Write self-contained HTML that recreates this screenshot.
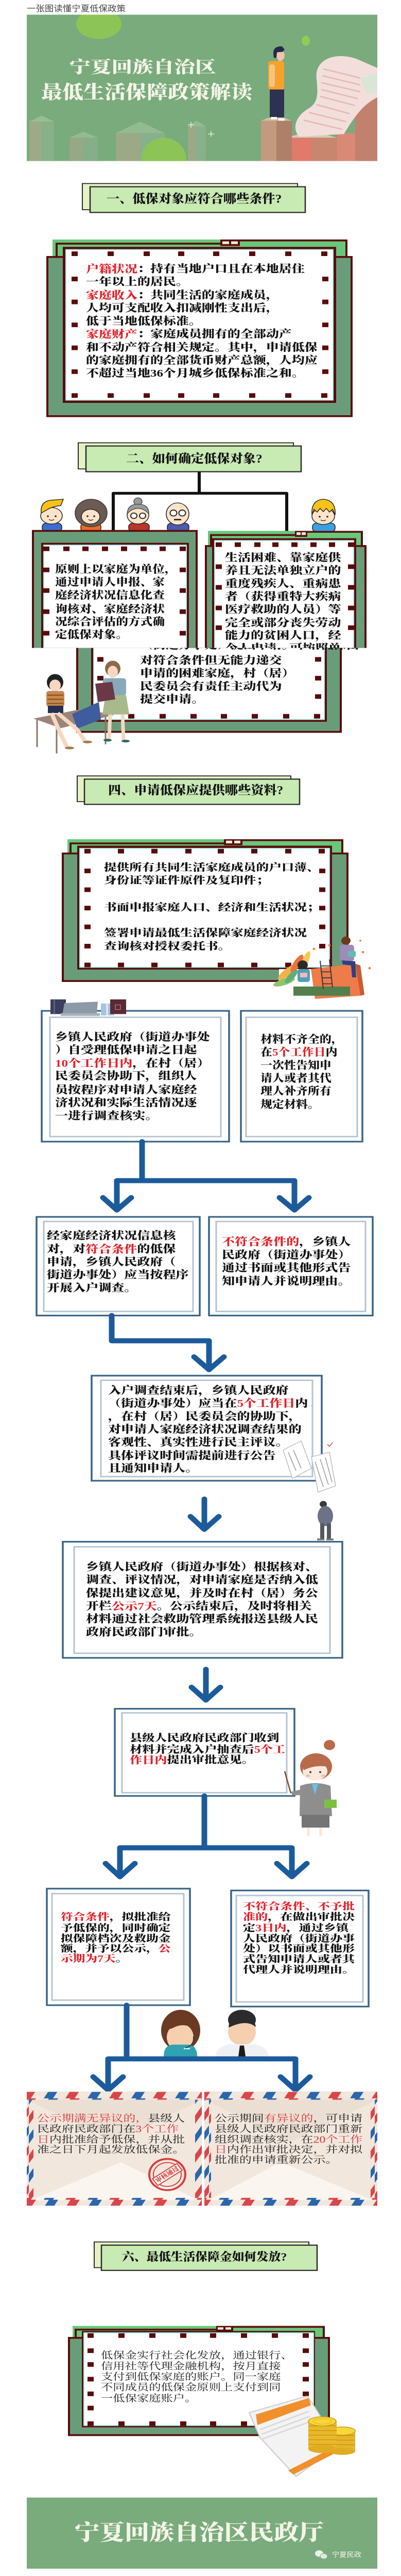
<!DOCTYPE html>
<html><head><meta charset="utf-8">
<meta name="viewport" content="width=779, initial-scale=1">
<style>
html,body{margin:0;padding:0;background:#fff;width:779px;height:100%;overflow:hidden}
svg{display:block;width:779px;height:clamp(4000px,100vh,5614px);overflow:hidden}
text{dominant-baseline:central}
.b{font-family:"Liberation Serif","Noto Serif CJK SC",serif;font-weight:900;fill:#111}
.n{font-family:"Liberation Serif","Noto Serif CJK SC",serif;font-weight:400;fill:#1c1c1c}
.w{font-family:"Liberation Serif","Noto Serif CJK SC",serif;font-weight:900;fill:#f5f4e8}
.s{font-family:"Liberation Sans","Noto Sans CJK SC",sans-serif;font-weight:400;fill:#444}
.r{fill:#e0232b}
.fr{fill:#699d7a;stroke:#5a0b0b;stroke-width:4}
.mr{fill:#5a0b0b}
.wp{fill:#fff;stroke:#a6eeee;stroke-width:2}
.bd{fill:#67c77a}
.ml{fill:none;stroke:#5a0b0b;stroke-width:4}
.ob{fill:#fff;stroke:#386488;stroke-width:3.5}
.ib{fill:none;stroke:#b3c3d1;stroke-width:3}
.hb{fill:#e4f1c4;stroke:#2b2b2b;stroke-width:2}
.hf{fill:#c8eab3;stroke:#2b2b2b;stroke-width:2.5}
.cn{fill:none;stroke:#1c5b9b;stroke-width:11;stroke-linecap:round;stroke-linejoin:round}
.sk{fill:#fde4c8;stroke:#222;stroke-width:1.5}
</style></head>
<body><svg viewBox="0 0 779 5614" preserveAspectRatio="none" xmlns="http://www.w3.org/2000/svg">
<defs>
<rect id="sq" x="-6" y="-5" width="12" height="10" fill="#5a0b0b"/>
<pattern id="airH" patternUnits="userSpaceOnUse" width="85" height="17" x="0" y="0">
  <polygon points="0,17 10,0 28,0 18,17" fill="#2a66ab"/>
  <polygon points="42,17 52,0 70,0 60,17" fill="#d9464a"/>
</pattern>
<pattern id="airV" patternUnits="userSpaceOnUse" width="14" height="85" x="0" y="0">
  <polygon points="0,22 14,0 14,18 0,40" fill="#d9464a"/>
  <polygon points="0,64 14,42 14,60 0,82" fill="#2a66ab"/>
</pattern>
<clipPath id="cBan"><rect x="52" y="32" width="681" height="319"/></clipPath>
<clipPath id="cAB"><rect x="0" y="1100" width="779" height="312"/></clipPath>
<clipPath id="cC"><rect x="0" y="1412" width="779" height="300"/></clipPath>
</defs>

<g transform="translate(52 0) scale(0.97 1)"><text class="s" font-size="18" y="19">一张图读懂宁夏低保政策</text></g>

<!-- Banner -->
<g clip-path="url(#cBan)">
<rect x="52" y="32" width="681" height="319" fill="#79ab7c"/>
<ellipse cx="192" cy="52" rx="44" ry="33" fill="#8cc457"/>
<ellipse cx="594" cy="89" rx="8" ry="11" fill="#8dcc55"/>
<polygon points="57,265 81,252 105,265 81,278" fill="#97bf95"/>
<rect x="57" y="265" width="24" height="86" fill="#9ea987"/>
<rect x="81" y="265" width="24" height="86" fill="#88b08a"/>
<polygon points="135,300 162,287 190,300 162,313" fill="#93bb92"/>
<rect x="135" y="300" width="27" height="51" fill="#96a886"/>
<rect x="162" y="300" width="28" height="51" fill="#86ae88"/>
<polygon points="225,290 272,265 320,290 272,315" fill="#93bb92"/>
<rect x="225" y="290" width="47" height="61" fill="#9ca986"/>
<rect x="272" y="290" width="48" height="61" fill="#88b08a"/>
<polygon points="365,275 382,263 400,275 382,287" fill="#93bb92"/>
<rect x="365" y="275" width="17" height="76" fill="#9ca986"/>
<rect x="382" y="275" width="18" height="76" fill="#88b08a"/>
<ellipse cx="318" cy="348" rx="44" ry="48" fill="#8cc457"/>
<path d="M371 266 v12 M365 272 h12 M410 286 v12 M404 292 h12" stroke="#e8f3e0" stroke-width="1.5"/>
<rect x="690" y="213" width="43" height="138" fill="#c2816c"/>
<polygon points="555,300 605,285 655,300 605,315" fill="#d8ccb6"/>
<rect x="555" y="300" width="50" height="51" fill="#e07a6a"/>
<rect x="605" y="300" width="50" height="51" fill="#c8866f"/>
<rect x="655" y="290" width="35" height="61" fill="#d98a77"/>
<path d="M615 172 C610 130 650 112 692 128 L733 148 L733 212 C705 228 690 252 668 292 L582 298 C566 282 574 252 600 236 C620 222 617 200 615 172 Z" fill="#f2dfdb"/>
<path d="M628 150 L700 170 M626 165 L700 185 M624 180 L700 200 M624 195 L695 215 M622 210 L690 230 M615 228 L680 248 M600 245 L672 265 M590 262 L665 282" stroke="#e6b9b6" stroke-width="3"/>
<polygon points="700,170 733,160 733,200 712,205" fill="#d9e6d6"/>
<polygon points="507,263 537,250 567,263 537,276" fill="#c9c39f"/>
<rect x="507" y="263" width="30" height="88" fill="#c39a7e"/>
<rect x="537" y="263" width="30" height="88" fill="#b07f6a"/>
<ellipse cx="545" cy="121" rx="8" ry="11" fill="#f0c4ac"/>
<path d="M531 118 Q530 100 548 101 L553 108 L549 113 L538 114 L537 126 L532 126 Z" fill="#27294a"/>
<rect x="541" y="129" width="6" height="6" fill="#f0c4ac"/>
<rect x="521" y="133" width="31" height="63" rx="6" fill="#f6a12c"/>
<rect x="523" y="140" width="11" height="50" rx="5" fill="#f9c37a"/>
<rect x="524" y="195" width="28" height="61" fill="#2e3252"/>
<rect x="526" y="255" width="12" height="5" fill="#fff"/>
<rect x="541" y="258" width="12" height="5" fill="#fff"/>
</g>
<g transform="translate(135 0) scale(1.13 1)"><text class="w" font-size="36" y="146">宁夏回族自治区</text></g>
<g transform="translate(80 0) scale(1.025 1)"><text class="w" font-size="40" y="202">最低生活保障政策解读</text></g>

<!-- Header 1 -->
<rect class="hb" x="160" y="400" width="418" height="57"/>
<rect class="hf" x="175" y="407" width="418" height="56"/>
<g transform="translate(207 0) scale(0.97 1)"><text class="b" font-size="26" y="434">一、低保对象应符合哪些条件?</text></g>

<!-- Frame 1 -->
<rect class="bd" x="102" y="522" width="573" height="38"/>
<path class="ml" d="M110 560 V531 H428"/>
<path class="ml" d="M466 524 H673 V560"/>
<rect class="mr" x="428" y="522" width="38" height="14"/>
<rect x="432" y="526" width="13" height="6" fill="#e9ecd9"/><rect x="449" y="526" width="13" height="6" fill="#e9ecd9"/>
<rect class="fr" x="92" y="560" width="591" height="347"/>
<rect class="mr" x="122" y="538" width="531" height="340"/>
<rect class="wp" x="128" y="544" width="519" height="328"/>
<use href="#sq" x="145" y="553"/><use href="#sq" x="215" y="553"/><use href="#sq" x="285" y="553"/><use href="#sq" x="352" y="553"/><use href="#sq" x="420" y="553"/><use href="#sq" x="490" y="553"/><use href="#sq" x="560" y="553"/><use href="#sq" x="630" y="553"/>
<use href="#sq" x="145" y="862"/><use href="#sq" x="215" y="862"/><use href="#sq" x="285" y="862"/><use href="#sq" x="352" y="862"/><use href="#sq" x="420" y="862"/><use href="#sq" x="490" y="862"/><use href="#sq" x="560" y="862"/><use href="#sq" x="630" y="862"/>
<use href="#sq" x="145" y="608"/><use href="#sq" x="145" y="658"/><use href="#sq" x="145" y="708"/><use href="#sq" x="145" y="758"/><use href="#sq" x="145" y="810"/>
<use href="#sq" x="632" y="608"/><use href="#sq" x="632" y="658"/><use href="#sq" x="632" y="708"/><use href="#sq" x="632" y="758"/><use href="#sq" x="632" y="810"/>
<g transform="translate(167 0) scale(1.087 1)">
<text class="b" font-size="23" y="586"><tspan class="r">户籍状况</tspan>：持有当地户口且在本地居住</text>
<text class="b" font-size="23" y="614">一年以上的居民。</text>
<text class="b" font-size="23" y="643"><tspan class="r">家庭收入</tspan>：共同生活的家庭成员，</text>
<text class="b" font-size="23" y="671">人均可支配收入扣减刚性支出后，</text>
<text class="b" font-size="23" y="700">低于当地低保标准。</text>
<text class="b" font-size="23" y="728"><tspan class="r">家庭财产</tspan>：家庭成员拥有的全部动产</text>
<text class="b" font-size="23" y="757">和不动产符合相关规定。其中，申请低保</text>
<text class="b" font-size="23" y="785">的家庭拥有的全部货币财产总额，人均应</text>
<text class="b" font-size="23" y="813">不超过当地36个月城乡低保标准之和。</text>
</g>

<!-- Header 2 -->
<rect class="hb" x="152" y="965" width="418" height="57"/>
<rect class="hf" x="167" y="972" width="418" height="56"/>
<g transform="translate(245 0) scale(0.97 1)"><text class="b" font-size="26" y="1000">二、如何确定低保对象?</text></g>
<path d="M387 1028 V1075 M220 1157 V1075 H557 V1157" fill="none" stroke="#111" stroke-width="6" stroke-linejoin="round"/>

<!-- cartoon heads -->
<rect x="82" y="1140" width="38" height="19" rx="8" fill="#3b6fd0" stroke="#222" stroke-width="1.5"/>
<ellipse class="sk" cx="100" cy="1124" rx="21" ry="18"/>
<path d="M80 1118 Q78 1092 100 1090 L123 1088 L118 1102 Q100 1104 90 1112 Z" fill="#f7c21a" stroke="#222" stroke-width="1.5"/>
<circle cx="93" cy="1125" r="1.8" fill="#222"/><circle cx="108" cy="1125" r="1.8" fill="#222"/>
<path d="M95 1132 Q100 1136 105 1132" stroke="#222" fill="none" stroke-width="1.3"/>
<rect x="157" y="1140" width="39" height="19" rx="8" fill="#f26b21" stroke="#222" stroke-width="1.5"/>
<ellipse cx="177" cy="1118" rx="31" ry="30" fill="#6b5b54" stroke="#333" stroke-width="1.5"/>
<ellipse class="sk" cx="176" cy="1126" rx="18" ry="16"/>
<circle cx="170" cy="1125" r="1.8" fill="#222"/><circle cx="183" cy="1125" r="1.8" fill="#222"/>
<path d="M172 1132 Q176 1136 181 1132" stroke="#222" fill="none" stroke-width="1.3"/>
<rect x="250" y="1140" width="40" height="19" rx="8" fill="#b8362a" stroke="#222" stroke-width="1.5"/>
<circle cx="268" cy="1093" r="8" fill="#9a9a9a" stroke="#333" stroke-width="1.2"/>
<ellipse class="sk" cx="268" cy="1123" rx="21" ry="19"/>
<path d="M247 1120 Q248 1098 268 1099 Q289 1098 289 1120 Q280 1108 268 1108 Q256 1108 247 1120 Z" fill="#9a9a9a" stroke="#333" stroke-width="1.2"/>
<circle cx="260" cy="1124" r="6" fill="#fff" stroke="#222" stroke-width="2"/><circle cx="277" cy="1124" r="6" fill="#fff" stroke="#222" stroke-width="2"/>
<rect x="325" y="1140" width="42" height="19" rx="8" fill="#4b5ab0" stroke="#222" stroke-width="1.5"/>
<ellipse class="sk" cx="345" cy="1120" rx="22" ry="24"/>
<circle cx="337" cy="1118" r="6.5" fill="#fff" stroke="#222" stroke-width="2"/><circle cx="354" cy="1118" r="6.5" fill="#fff" stroke="#222" stroke-width="2"/>
<rect x="338" y="1131" width="14" height="3" fill="#222"/>
<rect x="607" y="1140" width="44" height="19" rx="8" fill="#3aa0e0" stroke="#222" stroke-width="1.5"/>
<ellipse class="sk" cx="628" cy="1125" rx="22" ry="18"/>
<path d="M606 1122 Q604 1090 628 1088 Q653 1090 651 1122 L646 1110 L640 1116 L634 1108 L628 1115 L622 1108 L616 1116 L610 1110 Z" fill="#f7c21a" stroke="#222" stroke-width="1.5"/>
<circle cx="621" cy="1126" r="1.8" fill="#222"/><circle cx="636" cy="1126" r="1.8" fill="#222"/>
<path d="M623 1133 Q628 1137 633 1133" stroke="#222" fill="none" stroke-width="1.3"/>

<!-- Boxes A & B -->
<g clip-path="url(#cAB)">
<rect class="fr" x="64" y="1157" width="318" height="300"/>
<rect class="mr" x="80" y="1183" width="287" height="260"/>
<rect class="wp" x="85" y="1188" width="277" height="260"/>
<use href="#sq" x="90" y="1196"/><use href="#sq" x="129" y="1196"/><use href="#sq" x="166" y="1196"/><use href="#sq" x="204" y="1196"/><use href="#sq" x="241" y="1196"/><use href="#sq" x="279" y="1196"/><use href="#sq" x="316" y="1196"/><use href="#sq" x="355" y="1196"/>
<use href="#sq" x="90" y="1242"/><use href="#sq" x="90" y="1287"/><use href="#sq" x="90" y="1333"/><use href="#sq" x="90" y="1380"/>
<use href="#sq" x="355" y="1242"/><use href="#sq" x="355" y="1287"/><use href="#sq" x="355" y="1333"/><use href="#sq" x="355" y="1380"/>
<g transform="translate(107 0) scale(1.03 1)">
<text class="b" font-size="23" y="1240">原则上以家庭为单位，</text>
<text class="b" font-size="23" y="1268">通过申请人申报、家</text>
<text class="b" font-size="23" y="1297">庭经济状况信息化查</text>
<text class="b" font-size="23" y="1327">询核对、家庭经济状</text>
<text class="b" font-size="23" y="1355">况综合评估的方式确</text>
<text class="b" font-size="23" y="1383">定低保对象。</text>
</g>
<rect class="bd" x="404" y="1157" width="301" height="33"/>
<path class="ml" d="M410 1190 V1166 H573"/>
<path class="ml" d="M597 1159 H703 V1190"/>
<rect class="mr" x="573" y="1157" width="24" height="13"/>
<rect x="576" y="1160" width="8" height="6" fill="#e9ecd9"/><rect x="586" y="1160" width="8" height="6" fill="#e9ecd9"/>
<rect class="fr" x="400" y="1190" width="310" height="260"/>
<rect class="mr" x="412" y="1173" width="280" height="280"/>
<rect class="wp" x="417" y="1178" width="270" height="280"/>
<use href="#sq" x="425" y="1187"/><use href="#sq" x="462" y="1187"/><use href="#sq" x="500" y="1187"/><use href="#sq" x="535" y="1187"/><use href="#sq" x="572" y="1187"/><use href="#sq" x="609" y="1187"/><use href="#sq" x="645" y="1187"/><use href="#sq" x="682" y="1187"/>
<use href="#sq" x="425" y="1235"/><use href="#sq" x="425" y="1280"/><use href="#sq" x="425" y="1325"/><use href="#sq" x="425" y="1368"/>
<use href="#sq" x="682" y="1235"/><use href="#sq" x="682" y="1280"/><use href="#sq" x="682" y="1325"/><use href="#sq" x="682" y="1368"/>
<g transform="translate(437 0) scale(1.09 1)">
<text class="b" font-size="23" y="1215">生活困难、靠家庭供</text>
<text class="b" font-size="23" y="1243">养且无法单独立户的</text>
<text class="b" font-size="23" y="1272">重度残疾人、重病患</text>
<text class="b" font-size="23" y="1300">者（获得重特大疾病</text>
<text class="b" font-size="23" y="1328">医疗救助的人员）等</text>
<text class="b" font-size="23" y="1357">完全或部分丧失劳动</text>
<text class="b" font-size="23" y="1385">能力的贫困人口，经</text>
<text class="b" font-size="23" y="1413">个人申请，可按照单</text>
</g>
</g>

<!-- Box C -->
<g clip-path="url(#cC)">
<rect class="fr" x="150" y="1380" width="512" height="215"/>
<rect class="mr" x="177" y="1380" width="458" height="193"/>
<rect class="wp" x="182" y="1380" width="448" height="188"/>
<use href="#sq" x="195" y="1437"/><use href="#sq" x="195" y="1478"/><use href="#sq" x="195" y="1518"/>
<use href="#sq" x="618" y="1437"/><use href="#sq" x="618" y="1478"/><use href="#sq" x="618" y="1518"/>
<use href="#sq" x="255" y="1561"/><use href="#sq" x="316" y="1561"/><use href="#sq" x="376" y="1561"/><use href="#sq" x="435" y="1561"/><use href="#sq" x="495" y="1561"/><use href="#sq" x="556" y="1561"/><use href="#sq" x="616" y="1561"/>
<g transform="translate(272 0) scale(1.09 1)">
<text class="b" font-size="23" y="1406">（街道办事处）提出申请。申请低保由</text>
<text class="b" font-size="23" y="1439">对符合条件但无能力递交</text>
<text class="b" font-size="23" y="1467">申请的困难家庭，村（居）</text>
<text class="b" font-size="23" y="1496">民委员会有责任主动代为</text>
<text class="b" font-size="23" y="1524">提交申请。</text>
</g>
</g>
<!-- women illustration -->
<path d="M72 1568 V1628 M110 1586 V1642 M205 1560 V1622" stroke="#8a7469" stroke-width="3"/>
<polygon points="65,1566 160,1545 222,1558 118,1587" fill="#9d8479"/>
<polygon points="140,1556 192,1530 196,1568 150,1588" fill="#3f5c9e"/>
<ellipse cx="107" cy="1487" rx="16" ry="18" fill="#222"/>
<ellipse cx="107" cy="1494" rx="11" ry="13" fill="#f7d7c0"/>
<rect x="90" y="1506" width="35" height="34" rx="5" fill="#c9874a"/>
<path d="M92 1515 H123 M92 1524 H123 M92 1533 H123" stroke="#7a4a22" stroke-width="2"/>
<rect x="93" y="1538" width="30" height="16" fill="#24304f"/>
<path d="M100 1554 L118 1600 L130 1628 M112 1554 L150 1590 L165 1615" stroke="#f7d7c0" stroke-width="8" fill="none"/>
<ellipse cx="135" cy="1630" rx="9" ry="3" fill="#a67b4f"/><ellipse cx="170" cy="1617" rx="9" ry="3" fill="#a67b4f"/>
<ellipse cx="219" cy="1457" rx="15" ry="17" fill="#8a6a4a"/>
<ellipse cx="219" cy="1464" rx="10" ry="13" fill="#f7d7c0"/>
<rect x="200" y="1478" width="45" height="38" rx="6" fill="#87a9b8"/>
<polygon points="205,1515 245,1515 251,1557 199,1557" fill="#a8b98c"/>
<path d="M214 1557 L212 1610 M238 1557 L240 1612" stroke="#f7d7c0" stroke-width="7"/>
<ellipse cx="209" cy="1613" rx="8" ry="3" fill="#2e6a66"/><ellipse cx="244" cy="1615" rx="8" ry="3" fill="#2e6a66"/>
<polygon points="185,1490 218,1486 224,1524 190,1530" fill="#6b3848"/>

<!-- Header 4 -->
<rect class="hb" x="150" y="1691" width="415" height="56"/>
<rect class="hf" x="164" y="1698" width="418" height="55"/>
<g transform="translate(210 0) scale(0.97 1)"><text class="b" font-size="26" y="1723">四、申请低保应提供哪些资料?</text></g>

<!-- Box D -->
<rect class="bd" x="131" y="1829" width="536" height="31"/>
<path class="ml" d="M137 1860 V1838 H435"/>
<path class="ml" d="M471 1831 H665 V1860"/>
<rect class="mr" x="435" y="1829" width="36" height="13"/>
<rect x="439" y="1832" width="12" height="6" fill="#e9ecd9"/><rect x="455" y="1832" width="12" height="6" fill="#e9ecd9"/>
<rect class="fr" x="122" y="1860" width="553" height="278"/>
<rect class="mr" x="150" y="1843" width="495" height="270"/>
<rect class="wp" x="155" y="1849" width="485" height="259"/>
<use href="#sq" x="170" y="1855"/><use href="#sq" x="235" y="1855"/><use href="#sq" x="300" y="1855"/><use href="#sq" x="366" y="1855"/><use href="#sq" x="429" y="1855"/><use href="#sq" x="494" y="1855"/><use href="#sq" x="560" y="1855"/><use href="#sq" x="625" y="1855"/>
<use href="#sq" x="170" y="1898"/><use href="#sq" x="170" y="1939"/><use href="#sq" x="170" y="1979"/><use href="#sq" x="170" y="2020"/><use href="#sq" x="170" y="2062"/>
<use href="#sq" x="626" y="1898"/><use href="#sq" x="626" y="1939"/><use href="#sq" x="626" y="1979"/><use href="#sq" x="626" y="2020"/><use href="#sq" x="626" y="2062"/>
<use href="#sq" x="170" y="2103"/><use href="#sq" x="235" y="2103"/><use href="#sq" x="300" y="2103"/><use href="#sq" x="366" y="2103"/><use href="#sq" x="429" y="2103"/><use href="#sq" x="494" y="2103"/><use href="#sq" x="560" y="2103"/>
<g transform="translate(202 0) scale(1.12 1)">
<text class="b" font-size="22" y="1890">提供所有共同生活家庭成员的户口薄、</text>
<text class="b" font-size="22" y="1918">身份证等证件原件及复印件；</text>
<text class="b" font-size="22" y="1977">书面申报家庭人口、经济和生活状况；</text>
<text class="b" font-size="22" y="2033">签署申请最低生活保障家庭经济状况</text>
<text class="b" font-size="22" y="2062">查询核对授权委托书。</text>
</g>
<!-- reading illustration -->
<polygon points="542,2112 733,2112 733,2180 542,2180" fill="#fff"/>
<ellipse cx="560" cy="2118" rx="25" ry="8" fill="#f2b24a" transform="rotate(-40 560 2118)"/>
<ellipse cx="577" cy="2100" rx="22" ry="7" fill="#e9723d" transform="rotate(-60 577 2100)"/>
<ellipse cx="552" cy="2140" rx="22" ry="7" fill="#8cc66c" transform="rotate(-20 552 2140)"/>
<ellipse cx="594" cy="2092" rx="20" ry="6" fill="#f6c85a" transform="rotate(-70 594 2092)"/>
<ellipse cx="566" cy="2128" rx="18" ry="6" fill="#5fae7a" transform="rotate(-50 566 2128)"/>
<polygon points="604,2112 690,2100 700,2170 612,2177" fill="#ee7b49"/>
<polygon points="690,2100 700,2104 708,2168 700,2170" fill="#c95a32"/>
<rect x="570" y="2150" width="110" height="20" fill="#527f4c"/>
<path d="M622 2094 L628 2155 M640 2091 L646 2152 M623 2105 H641 M624 2118 H643 M626 2131 H644 M627 2144 H645" stroke="#3a3a3a" stroke-width="2"/>
<circle cx="672" cy="2050" r="9" fill="#6b3a1e"/>
<rect x="660" y="2059" width="28" height="36" rx="6" fill="#9d8bb8"/>
<path d="M664 2093 L690 2095 L692 2130 L684 2130 L682 2104 L666 2102 Z" fill="#2f3f86"/>
<rect x="676" y="2073" width="15" height="12" fill="#5cc0b0"/>
<circle cx="588" cy="2103" r="10" fill="#2a2a2a"/>
<rect x="578" y="2112" width="24" height="28" rx="5" fill="#4fa0b5"/>
<rect x="583" y="2120" width="14" height="10" fill="#f4b6c0"/>
<circle cx="610" cy="2068" r="2.5" fill="#f0843c"/><circle cx="640" cy="2060" r="2.5" fill="#f0843c"/><circle cx="705" cy="2075" r="2.5" fill="#f0843c"/><circle cx="718" cy="2110" r="2.5" fill="#f0843c"/><circle cx="700" cy="2050" r="2" fill="#f0843c"/>

<!-- Box E -->
<rect class="ob" x="81" y="2203" width="364" height="285"/>
<rect class="ib" x="97" y="2217" width="332" height="260"/>
<rect x="98" y="2178" width="30" height="32" fill="#3b3f5e"/>
<rect x="104" y="2178" width="3" height="32" fill="#5a5f82"/>
<polygon points="125,2186 190,2183 188,2210 121,2213" fill="#8e99a8"/>
<rect x="118" y="2208" width="76" height="6" fill="#a7b1be"/>
<rect x="196" y="2187" width="26" height="26" fill="#a4c3e0"/>
<rect x="206" y="2187" width="4" height="26" fill="#d8e6f2"/>
<rect x="214" y="2178" width="31" height="32" fill="#5a2a35"/>
<rect x="224" y="2190" width="10" height="10" fill="none" stroke="#c9a" stroke-width="1"/>
<g transform="translate(107 0) scale(1.09 1)">
<text class="b" font-size="23" y="2260">乡镇人民政府（街道办事处</text>
<text class="b" font-size="23" y="2288">）自受理低保申请之日起</text>
<text class="b" font-size="23" y="2317"><tspan class="r">10个工作日内</tspan>，在村（居）</text>
<text class="b" font-size="23" y="2345">民委员会协助下，组织人</text>
<text class="b" font-size="23" y="2375">员按程序对申请人家庭经</text>
<text class="b" font-size="23" y="2403">济状况和实际生活情况逐</text>
<text class="b" font-size="23" y="2432">一进行调查核实。</text>
</g>
<!-- Box F -->
<rect class="ob" x="468" y="2203" width="236" height="285"/>
<rect class="ib" x="478" y="2217" width="216" height="260"/>
<g transform="translate(506 0)">
<text class="b" font-size="23" y="2265">材料不齐全的，</text>
<text class="b" font-size="23" y="2293">在<tspan class="r">5个工作日</tspan>内</text>
<text class="b" font-size="23" y="2322">一次性告知申</text>
<text class="b" font-size="23" y="2350">请人或者其代</text>
<text class="b" font-size="23" y="2378">理人补齐所有</text>
<text class="b" font-size="23" y="2407">规定材料。</text>
</g>

<path class="cn" d="M276 2488 V2573 M227 2637 V2573 H572 V2637"/>
<path class="cn" d="M200 2610 L227 2637 L255 2610 M543 2610 L572 2637 L600 2610"/>

<!-- Box G -->
<rect class="ob" x="71" y="2652" width="317" height="215"/>
<rect class="ib" x="85" y="2662" width="290" height="196"/>
<g transform="translate(91 0) scale(1.09 1)">
<text class="b" font-size="23" y="2693">经家庭经济状况信息核</text>
<text class="b" font-size="23" y="2722">对，对<tspan class="r">符合条件</tspan>的低保</text>
<text class="b" font-size="23" y="2750">申请，乡镇人民政府（</text>
<text class="b" font-size="23" y="2778">街道办事处）应当按程序</text>
<text class="b" font-size="23" y="2807">开展入户调查。</text>
</g>
<!-- Box H -->
<rect class="ob" x="406" y="2652" width="318" height="215"/>
<rect class="ib" x="420" y="2662" width="290" height="196"/>
<g transform="translate(431 0) scale(1.09 1)">
<text class="b" font-size="23" y="2706"><tspan class="r">不符合条件的</tspan>，乡镇人</text>
<text class="b" font-size="23" y="2735">民政府（街道办事处）</text>
<text class="b" font-size="23" y="2763">通过书面或其他形式告</text>
<text class="b" font-size="23" y="2792">知申请人并说明理由。</text>
</g>

<path class="cn" d="M217 2867 V2922 H406 V2985"/>
<path class="cn" d="M377 2957 L406 2985 L435 2957"/>

<!-- Box I -->
<rect class="ob" x="178" y="2998" width="447" height="229"/>
<rect class="ib" x="196" y="3008" width="411" height="210"/>
<g transform="translate(210 0) scale(1.09 1)">
<text class="b" font-size="23" y="3030">入户调查结束后，乡镇人民政府</text>
<text class="b" font-size="23" y="3058">（街道办事处）应当在<tspan class="r">5个工作日</tspan>内</text>
<text class="b" font-size="23" y="3087">，在村（居）民委员会的协助下，</text>
<text class="b" font-size="23" y="3115">对申请人家庭经济状况调查结果的</text>
<text class="b" font-size="23" y="3143">客观性、真实性进行民主评议。</text>
<text class="b" font-size="23" y="3172">具体评议时间需提前进行公告</text>
<text class="b" font-size="23" y="3200">且通知申请人。</text>
</g>
<g fill="#fff" stroke="#bbb" stroke-width="1.5">
<polygon points="550,3160 585,3140 605,3200 568,3222"/>
<polygon points="605,3175 640,3165 652,3238 618,3252"/>
</g>
<path d="M560 3165 L575 3205 M570 3160 L585 3200 M612 3185 L628 3240 M622 3180 L638 3236 M632 3176 L645 3230" stroke="#999" stroke-width="1.5"/>
<path d="M636 3148 l4 4 l6 -8" stroke="#d33" stroke-width="1.5" fill="none"/>

<circle cx="628" cy="3278" r="7" fill="#3a3a3a"/>
<ellipse cx="632" cy="3304" rx="15" ry="22" fill="#6c7387"/>
<rect x="622" y="3320" width="8" height="35" fill="#55595f"/>
<rect x="635" y="3320" width="8" height="35" fill="#55595f"/>
<rect x="616" y="3353" width="14" height="4" fill="#777"/><rect x="634" y="3353" width="14" height="4" fill="#777"/>

<path class="cn" d="M397 3267 V3333"/>
<path class="cn" d="M370 3305 L397 3333 L425 3305"/>

<!-- Box J -->
<rect class="ob" x="122" y="3360" width="543" height="253"/>
<rect class="ib" x="144" y="3371" width="497" height="232"/>
<g transform="translate(167 0) scale(1.09 1)">
<text class="b" font-size="23" y="3415">乡镇人民政府（街道办事处）根据核对、</text>
<text class="b" font-size="23" y="3443">调查、评议情况，对申请家庭是否纳入低</text>
<text class="b" font-size="23" y="3472">保提出建议意见，并及时在村（居）务公</text>
<text class="b" font-size="23" y="3500">开栏<tspan class="r">公示7天</tspan>。公示结束后，及时将相关</text>
<text class="b" font-size="23" y="3528">材料通过社会救助管理系统报送县级人民</text>
<text class="b" font-size="23" y="3557">政府民政部门审批。</text>
</g>

<path class="cn" d="M400 3638 V3705"/>
<path class="cn" d="M372 3677 L400 3705 L428 3677"/>

<!-- Box K -->
<rect class="ob" x="223" y="3724" width="349" height="190"/>
<rect class="ib" x="237" y="3733" width="320" height="174"/>
<g transform="translate(252 0) scale(1.1 1)">
<text class="b" font-size="22" y="3787">县级人民政府民政部门收到</text>
<text class="b" font-size="22" y="3812">材料并完成入户抽查后<tspan class="r">5个工</tspan></text>
<text class="b" font-size="22" y="3835"><tspan class="r">作日内</tspan>提出审批意见。</text>
</g>
<!-- teacher -->
<line x1="553" y1="3860" x2="565" y2="3908" stroke="#7a4a2a" stroke-width="2.5"/>
<circle cx="640" cy="3803" r="11" fill="#b86b4b"/>
<ellipse cx="614" cy="3850" rx="31" ry="29" fill="#b86b4b"/>
<ellipse cx="612" cy="3860" rx="24" ry="20" fill="#fde9dc"/>
<path d="M588 3848 Q600 3832 636 3840 L636 3850 Q610 3846 590 3858 Z" fill="#b86b4b"/>
<circle cx="603" cy="3862" r="2" fill="#333"/><circle cx="622" cy="3862" r="2" fill="#333"/>
<ellipse cx="598" cy="3870" rx="4" ry="3" fill="#f6b9b9"/><ellipse cx="628" cy="3870" rx="4" ry="3" fill="#f6b9b9"/>
<path d="M583 3892 Q612 3880 642 3892 L645 3958 L582 3958 Z" fill="#8e8e8e"/>
<path d="M565 3905 L584 3900 L585 3912 L568 3913 Z" fill="#8e8e8e"/>
<path d="M606 3888 L618 3888 L612 3912 Z" fill="#6cc0e8"/>
<rect x="630" y="3922" width="24" height="18" fill="#7bc043"/>
<rect x="586" y="3955" width="54" height="28" fill="#757575"/>
<rect x="596" y="3983" width="6" height="18" fill="#fde9dc"/><rect x="620" y="3983" width="6" height="18" fill="#fde9dc"/>

<path class="cn" d="M397 3914 V4027 M233 4090 V4027 H567 V4090"/>
<path class="cn" d="M205 4061 L233 4090 L262 4061 M538 4061 L567 4090 L596 4061"/>

<!-- Box L -->
<rect class="ob" x="91" y="4116" width="278" height="254"/>
<rect class="ib" x="101" y="4127" width="256" height="232"/>
<g transform="translate(118 0) scale(1.13 1)">
<text class="b" font-size="21" y="4178"><tspan class="r">符合条件</tspan>，拟批准给</text>
<text class="b" font-size="21" y="4202">予低保的，同时确定</text>
<text class="b" font-size="21" y="4225">拟保障档次及救助金</text>
<text class="b" font-size="21" y="4247">额，并予以公示，<tspan class="r">公</tspan></text>
<text class="b" font-size="21" y="4269"><tspan class="r">示期为7天</tspan>。</text>
</g>
<!-- Box M -->
<rect class="ob" x="449" y="4120" width="267" height="253"/>
<rect class="ib" x="459" y="4131" width="246" height="232"/>
<g transform="translate(472 0) scale(1.15 1)">
<text class="b" font-size="21" y="4155"><tspan class="r">不符合条件、不予批</tspan></text>
<text class="b" font-size="21" y="4178"><tspan class="r">准的</tspan>，在做出审批决</text>
<text class="b" font-size="21" y="4202">定<tspan class="r">3日内</tspan>，通过乡镇</text>
<text class="b" font-size="21" y="4225">人民政府（街道办事</text>
<text class="b" font-size="21" y="4247">处）以书面或其他形</text>
<text class="b" font-size="21" y="4270">式告知申请人或者其</text>
<text class="b" font-size="21" y="4293">代理人并说明理由。</text>
</g>

<!-- busts -->
<ellipse cx="351" cy="4425" rx="38" ry="45" fill="#6a3b22"/>
<ellipse cx="350" cy="4440" rx="26" ry="30" fill="#f5cfae"/>
<path d="M322 4425 Q330 4395 352 4392 Q375 4395 380 4425 Q360 4405 335 4420 Z" fill="#6a3b22"/>
<path d="M318 4482 Q318 4458 335 4456 L366 4456 Q383 4458 383 4482 Z" fill="#2fa3b3"/>
<rect x="357" y="4463" width="12" height="3" fill="#dfeff2"/>
<path d="M376 4438 Q378 4458 360 4463" stroke="#333" stroke-width="2" fill="none"/>
<ellipse cx="470" cy="4402" rx="27" ry="22" fill="#2b2b2b"/>
<ellipse cx="470" cy="4428" rx="27" ry="30" fill="#f5cfae"/>
<path d="M444 4418 Q446 4392 470 4390 Q494 4392 497 4418 Q480 4400 446 4418 Z" fill="#2b2b2b"/>
<path d="M418 4482 Q420 4460 445 4455 L495 4455 Q520 4460 522 4482 Z" fill="#eef1f4"/>
<polygon points="466,4458 474,4458 477,4482 463,4482" fill="#1a1a1a"/>

<path class="cn" d="M246 4370 V4487 M210 4555 V4487 H574 V4555"/>
<path class="cn" d="M181 4526 L210 4555 L239 4526 M545 4526 L574 4555 L602 4526"/>

<!-- Envelopes -->
<rect x="52" y="4558" width="340" height="249" fill="#f1e7dd"/>
<polygon points="52,4576 392,4576 225,4668" fill="#ebdfd3"/>
<polygon points="60,4795 235,4712 385,4795" fill="#faf5ef"/>
<rect x="52" y="4559" width="340" height="17" fill="url(#airH)"/>
<rect x="52" y="4790" width="340" height="17" fill="url(#airH)"/>
<rect x="52" y="4576" width="13" height="214" fill="url(#airV)"/>
<rect x="379" y="4576" width="13" height="214" fill="url(#airV)"/>
<rect x="397" y="4558" width="336" height="249" fill="#f1e7dd"/>
<polygon points="397,4576 733,4576 565,4668" fill="#ebdfd3"/>
<polygon points="405,4795 545,4712 725,4795" fill="#faf5ef"/>
<rect x="397" y="4559" width="336" height="17" fill="url(#airH)"/>
<rect x="397" y="4790" width="336" height="17" fill="url(#airH)"/>
<rect x="397" y="4576" width="13" height="214" fill="url(#airV)"/>
<rect x="720" y="4576" width="13" height="214" fill="url(#airV)"/>
<g transform="translate(72 0) scale(1.14 1)">
<text class="n" font-size="21" y="4617"><tspan fill="#d8323a">公示期满无异议的，</tspan>县级人</text>
<text class="n" font-size="21" y="4640">民政府民政部门在<tspan fill="#d8323a">3个工作</tspan></text>
<text class="n" font-size="21" y="4663"><tspan fill="#d8323a">日</tspan>内批准给予低保，并从批</text>
<text class="n" font-size="21" y="4685">准之日下月起发放低保金。</text>
</g>
<g transform="translate(417 0) scale(1.14 1)">
<text class="n" font-size="21" y="4617">公示期间<tspan fill="#d8323a">有异议的</tspan>，可申请</text>
<text class="n" font-size="21" y="4640">县级人民政府民政部门重新</text>
<text class="n" font-size="21" y="4663">组织调查核实，在<tspan fill="#d8323a">20个工作</tspan></text>
<text class="n" font-size="21" y="4685"><tspan fill="#d8323a">日</tspan>内作出审批决定，并对拟</text>
<text class="n" font-size="21" y="4707">批准的申请重新公示。</text>
</g>
<ellipse cx="325" cy="4739" rx="35" ry="34" fill="none" stroke="#d73b3b" stroke-width="4"/>
<ellipse cx="325" cy="4739" rx="27" ry="26" fill="none" stroke="#d73b3b" stroke-width="2"/>
<g transform="rotate(-35 325 4739)">
<rect x="296" y="4730" width="58" height="18" fill="#fbf3ee" stroke="#d73b3b" stroke-width="2"/>
<text x="325" y="4739" text-anchor="middle" font-size="13" class="b" style="fill:#d73b3b">审核通过</text>
</g>

<!-- Header 6 -->
<rect class="hb" x="183" y="4886" width="417" height="56"/>
<rect class="hf" x="197" y="4893" width="419" height="55"/>
<g transform="translate(237 0) scale(0.95 1)"><text class="b" font-size="25" y="4918">六、最低生活保障金如何发放?</text></g>

<!-- Box N -->
<rect class="bd" x="141" y="5069" width="490" height="26"/>
<path class="ml" d="M147 5095 V5077 H420"/>
<path class="ml" d="M453 5071 H629 V5095"/>
<rect class="mr" x="420" y="5069" width="33" height="12"/>
<rect x="423" y="5072" width="11" height="5" fill="#e9ecd9"/><rect x="438" y="5072" width="11" height="5" fill="#e9ecd9"/>
<rect class="fr" x="134" y="5095" width="505" height="212"/>
<rect class="mr" x="159" y="5080" width="453" height="210"/>
<rect class="wp" x="163" y="5084" width="446" height="202"/>
<use href="#sq" x="176" y="5090"/><use href="#sq" x="236" y="5090"/><use href="#sq" x="296" y="5090"/><use href="#sq" x="356" y="5090"/><use href="#sq" x="414" y="5090"/><use href="#sq" x="474" y="5090"/><use href="#sq" x="534" y="5090"/><use href="#sq" x="594" y="5090"/>
<use href="#sq" x="176" y="5123"/><use href="#sq" x="176" y="5153"/><use href="#sq" x="176" y="5185"/><use href="#sq" x="176" y="5217"/><use href="#sq" x="176" y="5248"/>
<use href="#sq" x="594" y="5123"/><use href="#sq" x="594" y="5153"/><use href="#sq" x="594" y="5185"/><use href="#sq" x="594" y="5217"/>
<use href="#sq" x="176" y="5282"/><use href="#sq" x="236" y="5282"/><use href="#sq" x="296" y="5282"/><use href="#sq" x="356" y="5282"/><use href="#sq" x="414" y="5282"/><use href="#sq" x="474" y="5282"/>
<g transform="translate(196 0) scale(1.11 1)">
<text class="n" font-size="21" y="5133">低保金实行社会化发放，通过银行、</text>
<text class="n" font-size="21" y="5157">信用社等代理金融机构，按月直接</text>
<text class="n" font-size="21" y="5180">支付到低保家庭的账户。同一家庭</text>
<text class="n" font-size="21" y="5203">不同成员的低保金原则上支付到同</text>
<text class="n" font-size="21" y="5227">一低保家庭账户。</text>
</g>
<polygon points="484,5258 596,5222 606,5236 658,5330 575,5397 505,5312" fill="#f3f3f3" stroke="#c9c9c9" stroke-width="2"/>
<polygon points="497,5262 600,5226 604,5242 500,5285" fill="#f0902c"/>
<path d="M505 5295 L600 5255 M508 5305 L602 5266 M510 5315 L604 5277" stroke="#d9d9d9" stroke-width="3"/>
<polygon points="560,5384 640,5338 648,5348 570,5393" fill="#f0902c"/>
<rect x="640" y="5298" width="50" height="44" fill="#e6b52a"/>
<path d="M640 5308 H690 M640 5318 H690 M640 5328 H690" stroke="#c69314" stroke-width="1.5"/>
<ellipse cx="665" cy="5342" rx="25" ry="8" fill="#e0ab22"/>
<ellipse cx="665" cy="5298" rx="25" ry="9" fill="#f7d83a" stroke="#c99a10" stroke-width="1.5"/>
<rect x="599" y="5277" width="55" height="60" fill="#e8b92a"/>
<path d="M599 5287 H654 M599 5297 H654 M599 5307 H654 M599 5317 H654 M599 5327 H654" stroke="#c69314" stroke-width="1.5"/>
<ellipse cx="626" cy="5337" rx="27" ry="9" fill="#e0ab22"/>
<ellipse cx="626" cy="5277" rx="27" ry="10" fill="#f7d83a" stroke="#c99a10" stroke-width="1.5"/>
<ellipse cx="626" cy="5277" rx="18" ry="6" fill="none" stroke="#e6b92a" stroke-width="1.5"/>

<!-- Footer -->
<rect x="52" y="5443" width="681" height="155" fill="#79ab7c"/>
<g transform="translate(145 0) scale(1.03 1)"><text class="w" font-size="47" y="5520">宁夏回族自治区民政厅</text></g>
<ellipse cx="620" cy="5565" rx="8" ry="7" fill="#eef2ec"/>
<ellipse cx="629" cy="5571" rx="7" ry="6" fill="#dfe8dc" stroke="#79ab7c" stroke-width="1"/>
<g transform="translate(645 0) scale(0.95 1)"><text class="s" font-size="15" y="5567" style="fill:#eef2ec">宁夏民政</text></g>
</svg></body></html>
